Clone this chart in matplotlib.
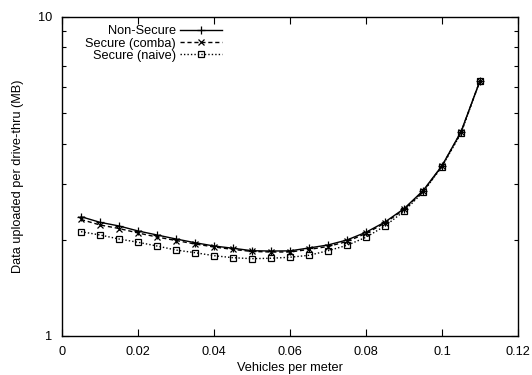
import numpy as np
import matplotlib
matplotlib.use('Agg')
import matplotlib.pyplot as plt
from matplotlib.ticker import LogLocator, NullFormatter, FixedLocator, FixedFormatter

plt.rcParams['font.family'] = ['Liberation Sans', 'DejaVu Sans']
plt.rcParams['font.size'] = 9.2

# densite de vehicules
vehicles = [0.005, 0.01, 0.015, 0.02, 0.025, 0.03, 0.035, 0.04, 0.045, 0.05, 0.055,
            0.06, 0.065, 0.07, 0.075, 0.08, 0.085, 0.09, 0.095, 0.1, 0.105, 0.11]

# donnees (MB) par passage
non_secure = [2.363, 2.269, 2.210, 2.132, 2.071, 2.012, 1.959, 1.913, 1.882, 1.849, 1.845,
              1.847, 1.886, 1.927, 1.998, 2.112, 2.274, 2.503, 2.850, 3.412, 4.359, 6.297]
secure_comba = [2.316, 2.226, 2.170, 2.101, 2.041, 1.990, 1.941, 1.900, 1.866, 1.839, 1.832,
                1.832, 1.866, 1.906, 1.976, 2.094, 2.258, 2.489, 2.834, 3.405, 4.341, 6.297]
secure_naive = [2.121, 2.071, 2.012, 1.965, 1.913, 1.858, 1.823, 1.784, 1.758, 1.746, 1.751,
                1.764, 1.789, 1.849, 1.922, 2.037, 2.210, 2.457, 2.818, 3.388, 4.309, 6.297]

fig = plt.figure(figsize=(5.32, 3.75), dpi=100)
ax = fig.add_axes([62/532, 39/375, 456/532, 319.5/375])

ax.plot(vehicles, non_secure, color='k', lw=1.0, linestyle='-',
        marker='+', markersize=6, markeredgewidth=0.9, label='Non-Secure')
ax.plot(vehicles, secure_comba, color='k', lw=1.0, linestyle=(0, (3, 2)),
        marker='x', markersize=4.5, markeredgewidth=0.9, label='Secure (comba)')
ax.plot(vehicles, secure_naive, color='k', lw=1.0, linestyle=(0, (1, 1.5)),
        marker='s', markersize=5, markerfacecolor='none', markeredgewidth=0.9,
        label='Secure (naive)')

ax.set_yscale('log')
ax.set_xlim(0, 0.12)
ax.set_ylim(1, 10)

ax.set_xticks([0, 0.02, 0.04, 0.06, 0.08, 0.1, 0.12])
ax.set_xticklabels(['0', '0.02', '0.04', '0.06', '0.08', '0.1', '0.12'])
ax.yaxis.set_major_locator(FixedLocator([1, 10]))
ax.yaxis.set_major_formatter(FixedFormatter(['1', '10']))
ax.yaxis.set_minor_locator(LogLocator(base=10, subs=np.arange(2, 10)))
ax.yaxis.set_minor_formatter(NullFormatter())

ax.tick_params(which='both', direction='in', top=True, right=True, width=0.8)
ax.tick_params(which='major', length=5, pad=7)
ax.tick_params(which='minor', length=3)
for s in ax.spines.values():
    s.set_linewidth(1.0)

ax.set_xlabel('Vehicles per meter', labelpad=3)
ax.set_ylabel('Data uploaded per drive-thru (MB)', labelpad=10)

leg = ax.legend(loc='upper right', bbox_to_anchor=(0.371, 1.0), frameon=False,
                markerfirst=False, handlelength=3.3, handletextpad=0.3,
                labelspacing=0.02, borderpad=0.2, fontsize=9.2)

fig.savefig('out.png', dpi=100)
